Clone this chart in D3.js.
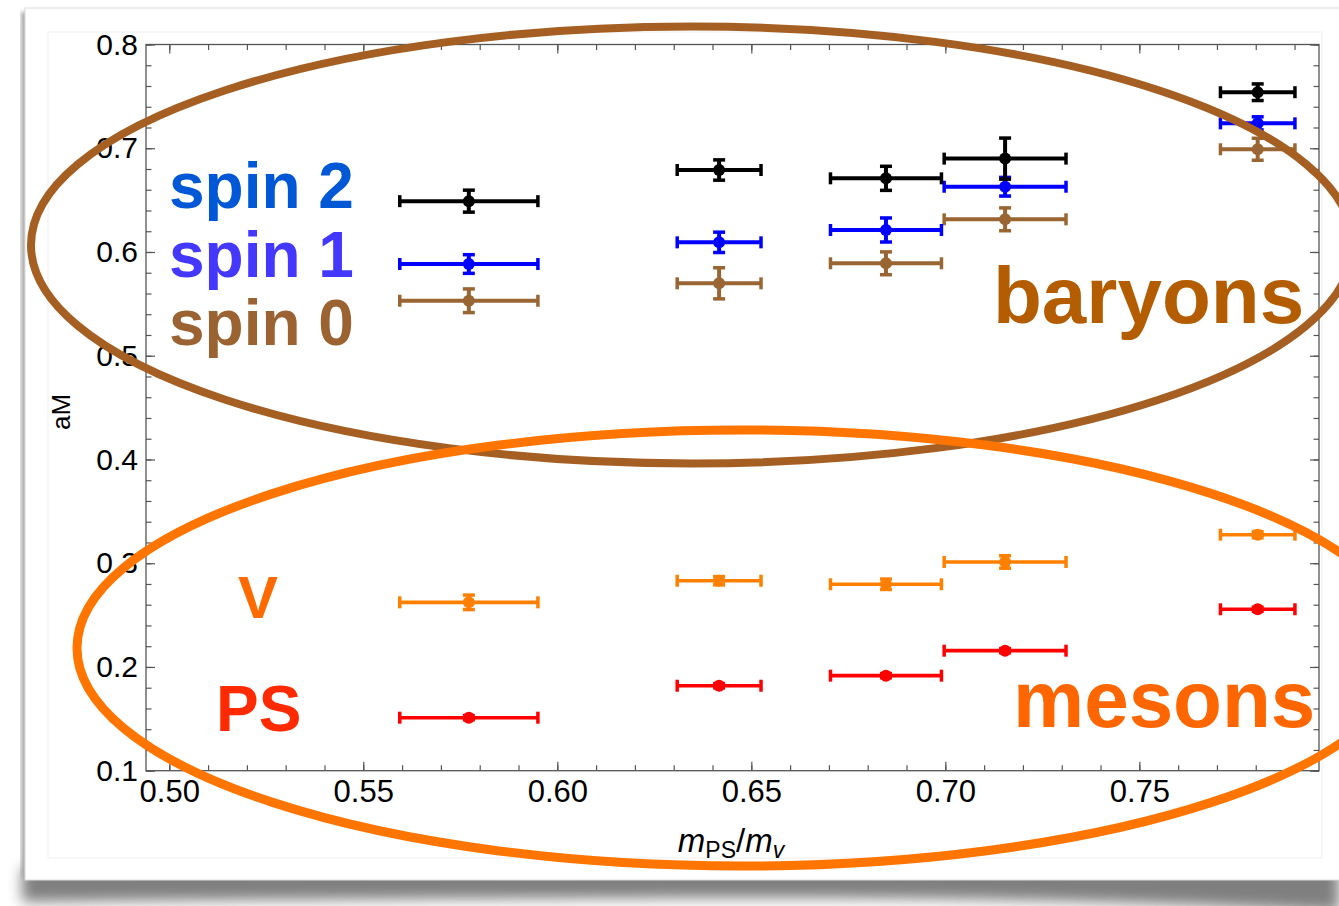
<!DOCTYPE html>
<html>
<head>
<meta charset="utf-8">
<script src="https://cdn.jsdelivr.net/npm/d3@7"></script>
<style>
  html, body { margin: 0; padding: 0; background: #fff; }
  svg { display: block; }
  text { font-family: "Liberation Sans", Arial, Helvetica, sans-serif; }
</style>
</head>
<body>
<svg id="chart" width="1339" height="906"></svg>
<script>
// m_PS / m_V for the five ensembles, with horizontal errors
const xRatio = [0.5772, 0.6417, 0.6847, 0.7154, 0.7805];
const xRatioErr = [0.0178, 0.0108, 0.0143, 0.0157, 0.0096];

// baryons
const spin2 = [0.649, 0.679, 0.671, 0.690, 0.754];
const spin2Err = [0.0106, 0.0098, 0.0116, 0.0198, 0.0080];
const spin1 = [0.5884, 0.6093, 0.6212, 0.6629, 0.7240];
const spin1Err = [0.0090, 0.0098, 0.0116, 0.0090, 0.0063];
const spin0 = [0.5530, 0.5698, 0.5891, 0.6315, 0.6990];
const spin0Err = [0.0114, 0.0150, 0.0110, 0.0110, 0.0106];

// mesons
const vector = [0.2623, 0.2831, 0.2797, 0.3012, 0.3275];
const vectorErr = [0.007, 0.004, 0.005, 0.006, 0.003];
const pseudo = [0.1511, 0.1819, 0.1916, 0.2157, 0.2556];
const pseudoErr = [0.002, 0.002, 0.002, 0.002, 0.002];

const xTicks = [0.50, 0.55, 0.60, 0.65, 0.70, 0.75];
const yTicks = [0.1, 0.2, 0.3, 0.4, 0.5, 0.6, 0.7, 0.8];

const svg = d3.select('#chart');
const plot = {left: 146, right: 1319, top: 44.5, bottom: 770.7};

const x = d3.scaleLinear().domain([0.494, 0.7963]).range([plot.left, plot.right]);
const y = d3.scaleLinear().domain([0.1, 0.8]).range([plot.bottom, plot.top]);

// ---- the "slide" card with its shadow ----
const defs = svg.append('defs');
defs.append('filter').attr('id', 'blur')
  .attr('x', '-10%').attr('y', '-50%').attr('width', '120%').attr('height', '200%')
  .append('feGaussianBlur').attr('stdDeviation', 7);
defs.append('filter').attr('id', 'blurSmall')
  .append('feGaussianBlur').attr('stdDeviation', 2);

svg.append('rect').attr('width', 1339).attr('height', 906).attr('fill', '#fff');

// bottom shadow, deeper in the middle
svg.append('path')
  .attr('d', 'M22,868 L1339,862 L1339,912 C1200,904 1000,898 800,898 C500,898 200,900 22,902 Z')
  .attr('fill', '#555')
  .attr('opacity', 0.75)
  .attr('filter', 'url(#blur)');
// left edge shadow
svg.append('rect')
  .attr('x', 21).attr('y', 12).attr('width', 8).attr('height', 866)
  .attr('fill', '#aaa')
  .attr('filter', 'url(#blurSmall)');

svg.append('rect')
  .attr('x', 25).attr('y', 8).attr('width', 1330).attr('height', 872)
  .attr('fill', '#fff')
  .attr('stroke', '#dcdcdc');
svg.append('rect')
  .attr('x', 48).attr('y', 32).attr('width', 1274).attr('height', 826)
  .attr('fill', '#fff')
  .attr('stroke', '#efefef');

// ---- frame and ticks ----
const xMinor = d3.range(50, 80).map(d => d / 100);
const yMinor = d3.range(5, 41).map(d => d / 50);

function styleAxis(g) {
  g.select('.domain').remove();
  g.attr('color', '#555');
  g.selectAll('line').attr('stroke-width', 1.2);
  g.selectAll('text').attr('fill', '#000');
}

// bottom
svg.append('g').attr('transform', `translate(0,${plot.bottom})`)
  .call(d3.axisBottom(x).tickValues(xMinor).tickSize(-5.5).tickFormat(''))
  .call(styleAxis);
svg.append('g').attr('transform', `translate(0,${plot.bottom})`)
  .call(d3.axisBottom(x).tickValues(xTicks).tickSize(-9).tickPadding(9).tickFormat(d3.format('.2f')))
  .call(styleAxis)
  .attr('font-size', 31)
  .attr('font-family', '"Liberation Sans", Arial, Helvetica, sans-serif');

// top
svg.append('g').attr('transform', `translate(0,${plot.top})`)
  .call(d3.axisTop(x).tickValues(xMinor).tickSize(-5.5).tickFormat(''))
  .call(styleAxis);
svg.append('g').attr('transform', `translate(0,${plot.top})`)
  .call(d3.axisTop(x).tickValues(xTicks).tickSize(-9).tickFormat(''))
  .call(styleAxis);

// left
svg.append('g').attr('transform', `translate(${plot.left},0)`)
  .call(d3.axisLeft(y).tickValues(yMinor).tickSize(-5.5).tickFormat(''))
  .call(styleAxis);
svg.append('g').attr('transform', `translate(${plot.left},0)`)
  .call(d3.axisLeft(y).tickValues(yTicks).tickSize(-9).tickPadding(8).tickFormat(d3.format('.1f')))
  .call(styleAxis)
  .attr('font-size', 30)
  .attr('font-family', '"Liberation Sans", Arial, Helvetica, sans-serif');

// right
svg.append('g').attr('transform', `translate(${plot.right},0)`)
  .call(d3.axisRight(y).tickValues(yMinor).tickSize(-5.5).tickFormat(''))
  .call(styleAxis);
svg.append('g').attr('transform', `translate(${plot.right},0)`)
  .call(d3.axisRight(y).tickValues(yTicks).tickSize(-9).tickFormat(''))
  .call(styleAxis);

svg.append('rect')
  .attr('x', plot.left).attr('y', plot.top)
  .attr('width', plot.right - plot.left).attr('height', plot.bottom - plot.top)
  .attr('fill', 'none')
  .attr('stroke', '#555')
  .attr('stroke-width', 1.3);

// axis titles
svg.append('text')
  .attr('transform', `translate(70,412) rotate(-90)`)
  .attr('text-anchor', 'middle')
  .attr('font-size', 26)
  .text('aM');

const xTitle = svg.append('text')
  .attr('x', 731).attr('y', 852)
  .attr('text-anchor', 'middle')
  .attr('font-size', 33);
xTitle.append('tspan').attr('font-style', 'italic').text('m');
xTitle.append('tspan').attr('font-size', 23).attr('dy', 6).text('PS');
xTitle.append('tspan').attr('dy', -6).text('/');
xTitle.append('tspan').attr('font-style', 'italic').text('m');
xTitle.append('tspan').attr('font-style', 'italic').attr('font-size', 23).attr('dy', 6).text('v');

// ---- data with error bars ----
const series = [
  {y: spin0, err: spin0Err, color: '#996633', w: 4},
  {y: spin1, err: spin1Err, color: '#0000ff', w: 4},
  {y: spin2, err: spin2Err, color: '#000000', w: 4},
  {y: vector, err: vectorErr, color: '#ff8000', w: 3.6},
  {y: pseudo, err: pseudoErr, color: '#ff0000', w: 3.6}
];

const cap = 6;

series.forEach(s => {
  const pts = xRatio.map((xv, i) => ({x: xv, xe: xRatioErr[i], y: s.y[i], ye: s.err[i]}));
  const g = svg.append('g')
    .attr('stroke', s.color)
    .attr('fill', s.color);

  const bar = g.selectAll('g.pt')
    .data(pts)
    .enter().append('g')
    .attr('class', 'pt');

  // horizontal error
  bar.append('line')
    .attr('x1', d => x(d.x - d.xe)).attr('x2', d => x(d.x + d.xe))
    .attr('y1', d => y(d.y)).attr('y2', d => y(d.y))
    .attr('stroke-width', s.w);
  bar.append('line')
    .attr('x1', d => x(d.x - d.xe)).attr('x2', d => x(d.x - d.xe))
    .attr('y1', d => y(d.y) - cap).attr('y2', d => y(d.y) + cap)
    .attr('stroke-width', 3.5);
  bar.append('line')
    .attr('x1', d => x(d.x + d.xe)).attr('x2', d => x(d.x + d.xe))
    .attr('y1', d => y(d.y) - cap).attr('y2', d => y(d.y) + cap)
    .attr('stroke-width', 3.5);

  // vertical error
  bar.append('line')
    .attr('x1', d => x(d.x)).attr('x2', d => x(d.x))
    .attr('y1', d => y(d.y - d.ye)).attr('y2', d => y(d.y + d.ye))
    .attr('stroke-width', s.w);
  bar.append('line')
    .attr('x1', d => x(d.x) - cap).attr('x2', d => x(d.x) + cap)
    .attr('y1', d => y(d.y - d.ye)).attr('y2', d => y(d.y - d.ye))
    .attr('stroke-width', 3.5);
  bar.append('line')
    .attr('x1', d => x(d.x) - cap).attr('x2', d => x(d.x) + cap)
    .attr('y1', d => y(d.y + d.ye)).attr('y2', d => y(d.y + d.ye))
    .attr('stroke-width', 3.5);

  bar.append('circle')
    .attr('cx', d => x(d.x)).attr('cy', d => y(d.y))
    .attr('r', 6)
    .attr('stroke', 'none');
});

// ---- hand drawn annotations ----
svg.append('ellipse')
  .attr('cx', 692).attr('cy', 245).attr('rx', 661).attr('ry', 218.5)
  .attr('fill', 'none')
  .attr('stroke', '#a65f22')
  .attr('stroke-width', 8);

svg.append('ellipse')
  .attr('cx', 742).attr('cy', 648).attr('rx', 665).attr('ry', 218)
  .attr('fill', 'none')
  .attr('stroke', '#ff7500')
  .attr('stroke-width', 9);

const labels = [
  {t: 'spin 2', x: 169, y: 208, size: 64, color: '#0058d6', anchor: 'start'},
  {t: 'spin 1', x: 169, y: 277, size: 64, color: '#4438ff', anchor: 'start'},
  {t: 'spin 0', x: 169, y: 345, size: 64, color: '#9a6331', anchor: 'start'},
  {t: 'V', x: 258, y: 618, size: 60, color: '#ff6a00', anchor: 'middle'},
  {t: 'PS', x: 216, y: 731, size: 64, color: '#ff2a00', anchor: 'start'},
  {t: 'baryons', x: 993, y: 323, size: 80, color: '#b35c00', anchor: 'start'},
  {t: 'mesons', x: 1013, y: 727, size: 80, color: '#ff6600', anchor: 'start'}
];

svg.selectAll('text.note')
  .data(labels)
  .enter().append('text')
  .attr('class', 'note')
  .attr('x', d => d.x).attr('y', d => d.y)
  .attr('text-anchor', d => d.anchor)
  .attr('font-size', d => d.size)
  .attr('font-weight', 'bold')
  .attr('fill', d => d.color)
  .text(d => d.t);
</script>
</body>
</html>
